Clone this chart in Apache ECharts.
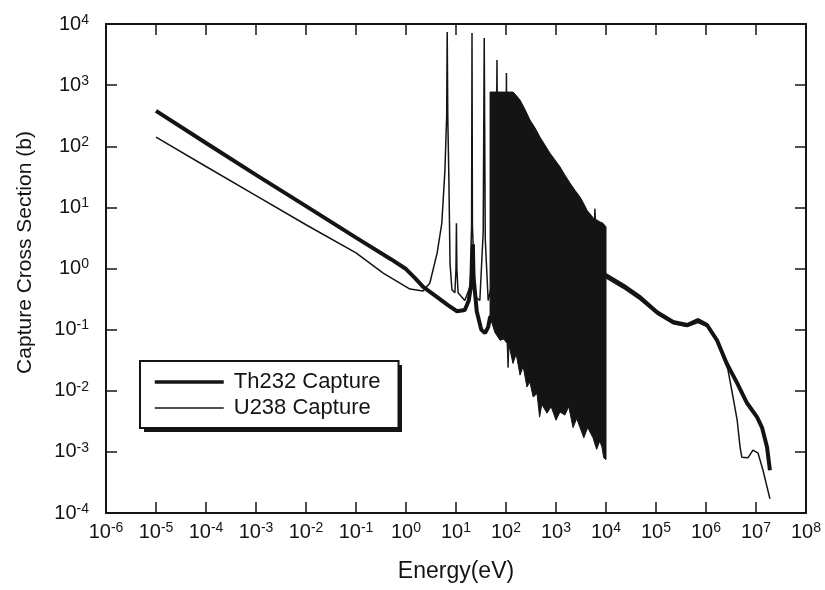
<!DOCTYPE html>
<html>
<head>
<meta charset="utf-8">
<title>Th232 / U238 capture cross section</title>
<script src="https://cdn.jsdelivr.net/npm/echarts@6/dist/echarts.min.js"></script>
<style>
  html, body { margin: 0; padding: 0; background: #fff; }
  #chart { width: 825px; height: 590px; }
</style>
</head>
<body>
<div id="chart"></div>
<script>
// energies in eV, cross sections in barns
const th232Energy = [1e-5, 1e-4, 1e-3, 1e-2, 0.1, 0.5, 1, 1.5, 2.2, 4.2, 7, 10.5, 15, 18, 20.5, 21.5, 21.8, 22.1,
  22.5, 26, 32, 38, 44, 48, 1e4, 2.2e4, 4.8e4, 1.05e5, 2.2e5, 4.2e5, 6.9e5, 1.05e6, 1.66e6, 2.6e6,
  4.2e6, 6.6e6, 1.05e7, 1.32e7, 1.66e7, 1.9e7]
const th232Sigma = [380, 113, 34, 10.5, 3.2, 1.42, 0.98, 0.7, 0.5, 0.34, 0.25, 0.2, 0.21, 0.3, 0.6, 1.2, 2.5, 1.2,
  0.7, 0.2, 0.1, 0.088, 0.11, 0.16, 0.78, 0.53, 0.34, 0.193, 0.133, 0.119, 0.143, 0.119, 0.067, 0.028,
  0.0133, 0.0063, 0.0037, 0.0025, 0.0012, 0.0005]

const u238Energy = [1e-5, 1e-4, 1e-3, 1e-2, 0.1, 0.35, 1.2, 2.2, 3.0, 4.2, 5.2, 6.0, 6.5, 6.67, 6.85,
  7.2, 7.6, 8.3, 9.5, 10.0, 10.2, 10.4, 11, 15, 19, 20.5, 20.9, 21.3, 24, 30, 35, 36.7, 38.5, 44,
  62, 66, 70, 98, 102, 107, 1e4, 2.2e4, 4.8e4, 1.05e5, 2.2e5, 4.2e5, 6.9e5, 1.05e6, 1.66e6, 2.75e6,
  3.47e6, 4.2e6, 4.8e6, 5.2e6, 6.9e6, 8.7e6, 1.1e7, 1.38e7, 1.9e7]
const u238Sigma = [141, 46.6, 15.6, 5.2, 1.8, 0.84, 0.46, 0.43, 0.58, 1.8, 5.5, 40, 300, 7400, 300,
  30, 1.2, 0.45, 0.4, 1, 5.5, 1, 0.4, 0.3, 0.5, 5, 7100, 5, 0.35, 0.3, 4, 5900, 3, 0.3,
  1, 2580, 1, 1, 1580, 0.5, 0.7, 0.48, 0.31, 0.18, 0.125, 0.112, 0.13, 0.112, 0.064, 0.022,
  0.0079, 0.0033, 0.0012, 0.00082, 0.0008, 0.00107, 0.00095, 0.0005, 0.00017]

// dense resonance band (about 50 eV - 10 keV): upper and lower edges
const bandTopEnergy = [48, 138, 160, 191, 240, 302, 380, 479, 600, 759, 950, 1202, 1500, 1905, 2400,
  3020, 3500, 4169, 5000, 5800, 6000, 6200, 7500, 8710, 10000]
const bandTopSigma = [770, 770, 680, 570, 400, 268, 200, 141, 105, 77, 60, 46, 34, 25, 19,
  14.8, 12, 9.0, 7.5, 6.4, 9.5, 6.4, 5.8, 5.5, 4.8]
const bandBottomEnergy = [48, 60, 76, 90, 105, 110, 115, 138, 160, 191, 220, 263, 300, 350, 417, 470,
  520, 661, 800, 1000, 1202, 1500, 1800, 2188, 2600, 3020, 3600, 4300, 5495, 6500, 7500, 8318, 9000, 10000]
const bandBottomSigma = [0.16, 0.09, 0.067, 0.07, 0.06, 0.024, 0.055, 0.028, 0.04, 0.018, 0.025, 0.0115,
  0.014, 0.0079, 0.009, 0.0037, 0.006, 0.0043, 0.0055, 0.0033, 0.0045, 0.004, 0.0055, 0.0025, 0.0035,
  0.0025, 0.0017, 0.0025, 0.0017, 0.0011, 0.0015, 0.0012, 0.0008, 0.00075]

const xTickExp = [-6, -5, -4, -3, -2, -1, 0, 1, 2, 3, 4, 5, 6, 7, 8]
const yTickExp = [-4, -3, -2, -1, 0, 1, 2, 3, 4]

const ink = '#141414'
const font = '"Liberation Sans", Arial, sans-serif'

// axes are plain value axes in decades, so every decade gets a tick
const toLog = (es, ss) => es.map((e, i) => [Math.log10(e), Math.log10(ss[i])])

const powLabel = {
  formatter: (v) => '{b|10}{s|' + Math.round(v) + '}',
  rich: {
    b: { fontSize: 20, fontFamily: font, color: ink, lineHeight: 22 },
    s: { fontSize: 14, fontFamily: font, color: ink, verticalAlign: 'top', lineHeight: 13 },
  },
}

const tick = { show: true, inside: true, length: 11, lineStyle: { color: ink, width: 1.5 } }
const line = { show: true, onZero: false, lineStyle: { color: ink, width: 2 } }

const chart = echarts.init(document.getElementById('chart'), null, { renderer: 'canvas' })

chart.setOption({
  animation: false,
  backgroundColor: '#fff',
  textStyle: { fontFamily: font, color: ink },
  grid: { left: 106, right: 19, top: 24, bottom: 77 },
  // drop shadow behind the legend box
  graphic: [
    {
      type: 'rect',
      left: 144,
      top: 365,
      z: 5,
      shape: { width: 258, height: 67 },
      style: { fill: ink },
    },
  ],
  legend: {
    left: 140,
    top: 361,
    z: 6,
    orient: 'vertical',
    data: [
      { name: 'Th232 Capture', lineStyle: { width: 3.5 } },
      { name: 'U238 Capture', lineStyle: { width: 1.5 } },
    ],
    itemWidth: 69,
    itemHeight: 22,
    itemGap: 4,
    padding: [10, 18, 9, 13],
    itemStyle: { opacity: 0 },
    backgroundColor: '#fff',
    borderColor: ink,
    borderWidth: 2,
    textStyle: { fontSize: 22, color: ink, fontFamily: font, padding: [0, 0, 0, 5] },
  },
  xAxis: [
    {
      type: 'value',
      min: xTickExp[0],
      max: xTickExp[xTickExp.length - 1],
      interval: 1,
      name: 'Energy(eV)',
      nameLocation: 'middle',
      nameGap: 47,
      nameTextStyle: { fontSize: 23, color: ink, fontFamily: font },
      axisLine: line,
      axisTick: tick,
      axisLabel: { ...powLabel, margin: 8 },
      splitLine: { show: false },
    },
    {
      type: 'value',
      position: 'top',
      min: xTickExp[0],
      max: xTickExp[xTickExp.length - 1],
      interval: 1,
      axisLine: line,
      axisTick: tick,
      axisLabel: { show: false },
      splitLine: { show: false },
    },
  ],
  yAxis: [
    {
      type: 'value',
      min: yTickExp[0],
      max: yTickExp[yTickExp.length - 1],
      interval: 1,
      name: 'Capture Cross Section (b)',
      nameLocation: 'middle',
      nameGap: 70,
      nameTextStyle: { fontSize: 21, color: ink, fontFamily: font, padding: [0, 0, 0, 32] },
      axisLine: line,
      axisTick: tick,
      axisLabel: { ...powLabel, margin: 17 },
      splitLine: { show: false },
    },
    {
      type: 'value',
      position: 'right',
      min: yTickExp[0],
      max: yTickExp[yTickExp.length - 1],
      interval: 1,
      axisLine: line,
      axisTick: tick,
      axisLabel: { show: false },
      splitLine: { show: false },
    },
  ],
  series: [
    {
      name: 'Th232 Capture',
      type: 'line',
      data: toLog(th232Energy, th232Sigma),
      symbol: 'none',
      lineStyle: { color: ink, width: 4 },
      itemStyle: { color: ink },
      z: 3,
    },
    {
      name: 'U238 Capture',
      type: 'line',
      data: toLog(u238Energy, u238Sigma),
      symbol: 'none',
      lineStyle: { color: ink, width: 1.5 },
      itemStyle: { color: ink },
      z: 3,
    },
    {
      type: 'custom',
      clip: true,
      z: 4,
      data: [[Math.log10(bandTopEnergy[0]), Math.log10(bandTopSigma[0])]],
      renderItem: (params, api) => {
        const top = toLog(bandTopEnergy, bandTopSigma).map((p) => api.coord(p))
        const bottom = toLog(bandBottomEnergy, bandBottomSigma).map((p) => api.coord(p)).reverse()
        return {
          type: 'polygon',
          shape: { points: top.concat(bottom) },
          style: { fill: ink, stroke: ink, lineWidth: 1 },
        }
      },
    },
  ],
})
</script>
</body>
</html>
